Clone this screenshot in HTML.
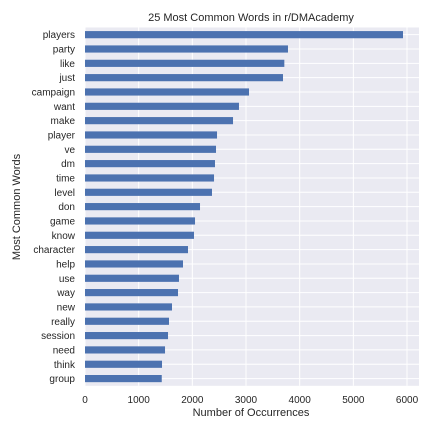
<!DOCTYPE html>
<html><head><meta charset="utf-8"><style>
body{margin:0;background:#fff;}
svg{display:block;font-family:"Liberation Sans",sans-serif;}
</style></head><body>
<svg id="chart" width="432" height="432">
<text x="251" y="21" text-anchor="middle" font-size="11" fill="#262626">25 Most Common Words in r/DMAcademy</text>
<rect x="85" y="27.5" width="334" height="358.3" fill="#eaeaf2"/>
<g id="grid"></g><g id="bars"></g><g id="xticks"></g><g id="yticks"></g>
<text x="251" y="416" text-anchor="middle" font-size="11" fill="#262626">Number of Occurrences</text>
<text transform="translate(20,207) rotate(-90)" text-anchor="middle" font-size="11" fill="#262626">Most Common Words</text>
</svg>
<script>
const categories=["players","party","like","just","campaign","want","make","player","ve","dm","time","level","don","game","know","character","help","use","way","new","really","session","need","think","group"];
const values=[5925,3782,3714,3689,3056,2869,2758,2460,2441,2422,2404,2366,2143,2050,2031,1919,1826,1751,1733,1621,1565,1547,1491,1435,1430];
const xTicks=[0,1000,2000,3000,4000,5000,6000];
const NS="http://www.w3.org/2000/svg";
const x0=85,pxPer=53.67/1000,plotTop=27.5,band=14.33,plotRight=419,plotBottom=385.8;
const X=v=>x0+v*pxPer;
const Y=i=>plotTop+band*i+band/2;
function mk(t,a,p){const e=document.createElementNS(NS,t);for(const k in a)e.setAttribute(k,a[k]);p.appendChild(e);return e;}
const grid=document.getElementById('grid'),bars=document.getElementById('bars'),xt=document.getElementById('xticks'),yt=document.getElementById('yticks');
xTicks.forEach(v=>{
 const l=mk('line',{x1:X(v),x2:X(v),y1:plotTop,y2:plotBottom,stroke:'#fff','stroke-width':1},grid);
 
 
 const t=mk('text',{x:X(v),y:403,'text-anchor':'middle','font-size':10,fill:'#262626'},xt);
 t.textContent=v;
 
 
});
categories.forEach((c,i)=>{
 const l=mk('line',{x1:x0,x2:plotRight,y1:Y(i),y2:Y(i),stroke:'#fff','stroke-width':1},grid);
 
 
 const r=mk('rect',{x:x0,y:Y(i)-band/4,width:X(values[i])-x0,height:band/2,fill:'#4c72b0'},bars);
 
 
 const t=mk('text',{x:75,y:Y(i)+3.5,'text-anchor':'end','font-size':10,fill:'#262626'},yt);
 t.textContent=c;
 
 
});
</script>
</body></html>
